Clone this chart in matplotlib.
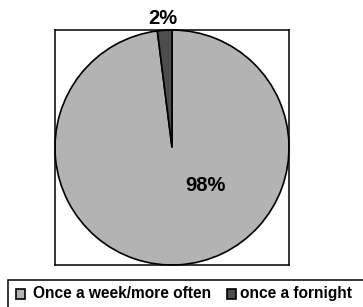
import matplotlib
matplotlib.use("Agg")
import matplotlib.pyplot as plt
from matplotlib.patches import Rectangle

categories = ["Once a week/more often", "once a fornight"]
values = [98, 2]
labels = ["98%", "2%"]
colors = ["#b3b3b3", "#4d4d4d"]

plt.rcParams['font.family'] = ['Liberation Sans', 'DejaVu Sans']

W, H = 363, 307
fig = plt.figure(figsize=(W / 100, H / 100), dpi=100)

# plot area (pixels): x 55-289, y 30-265 from top
ax = fig.add_axes([55 / W, (H - 265) / H, 234 / W, 235 / H])
wedges, _ = ax.pie(values, colors=colors, startangle=90, counterclock=False,
                   radius=1.0, frame=True,
                   wedgeprops=dict(edgecolor="black", linewidth=1.2))
ax.set_aspect('auto')
ax.set_xlim(-1, 1)
ax.set_ylim(-1, 1)
ax.set_xticks([])
ax.set_yticks([])
for s in ax.spines.values():
    s.set_visible(True)
    s.set_color("black")
    s.set_linewidth(1.1)

# data labels
ax.text(0.29, -0.32, labels[0], ha="center", va="center",
        fontsize=14.5, fontweight="bold", color="black")
ax.text(-0.077, 1.10, labels[1], ha="center", va="center",
        fontsize=14.5, fontweight="bold", color="black", clip_on=False)

# legend drawn manually (box extends past right edge)
def px(x, y):
    return x / W, 1 - y / H

lx, ly = px(8, 280)
fig.patches.append(Rectangle((lx, 1 - 320 / H), (380 - 8) / W, (320 - 280) / H,
                             transform=fig.transFigure, facecolor="white",
                             edgecolor="black", linewidth=1.1, clip_on=False))
marker_x = [15.5, 226.5]
text_x = [33, 240]
for i, cat in enumerate(categories):
    mx, my = px(marker_x[i], 298.5)
    fig.patches.append(Rectangle((mx, my), 9.5 / W, 9.5 / H, transform=fig.transFigure,
                                 facecolor=colors[i], edgecolor="black", linewidth=1.2))
    tx, ty = px(text_x[i], 293.5)
    fig.text(tx, ty, cat, ha="left", va="center", fontsize=11.2,
             fontweight="bold", color="black")

fig.savefig("out.png", dpi=100, facecolor="white")
